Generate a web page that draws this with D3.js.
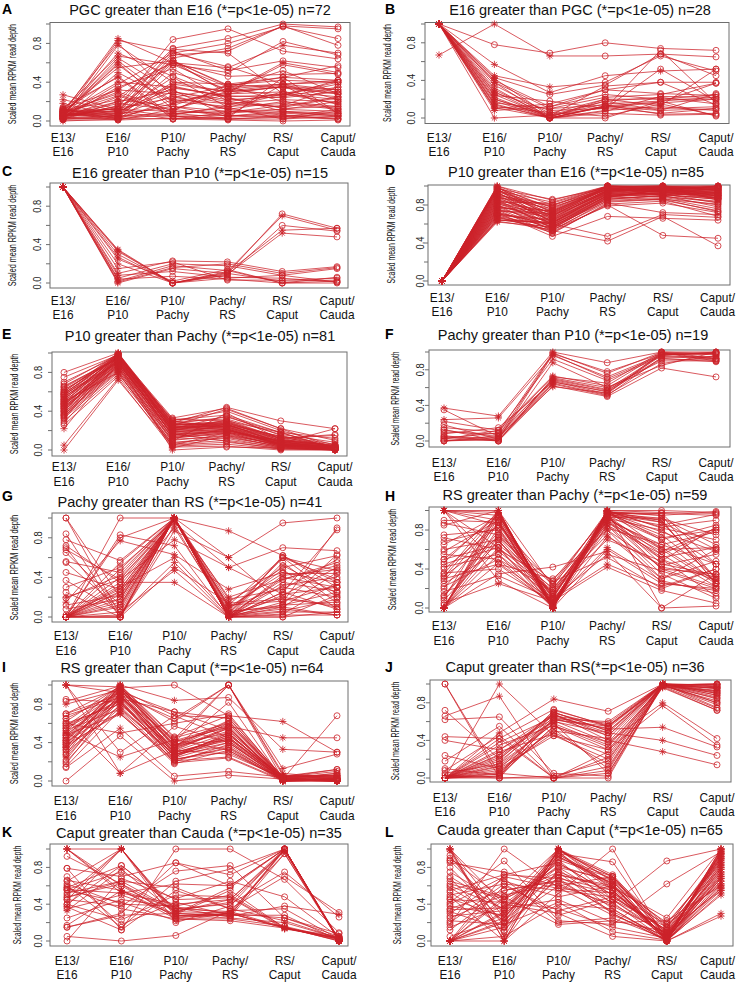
<!DOCTYPE html>
<html><head><meta charset="utf-8">
<script src="https://cdn.jsdelivr.net/npm/d3@7"></script>
<style>html,body{margin:0;padding:0;background:#fff;}svg{display:block;font-family:"Liberation Sans",Arial,Helvetica,sans-serif;}</style>
</head><body>
<svg id="c" width="736" height="983"></svg>
<script>
// ---------------- DATA ----------------
const stages = [["E13/","E16"],["E16/","P10"],["P10/","Pachy"],["Pachy/","RS"],["RS/","Caput"],["Caput/","Cauda"]];
const yTicks = [0,0.2,0.4,0.6,0.8,1.0];
const yLabelTicks = [0,0.4,0.8];
const yLabelText = ["0.0","0.4","0.8"];
const yTitle = "Scaled mean RPKM read depth";
const panelLetters = ["A","B","C","D","E","F","G","H","I","J","K","L"];
const panelTitles = [
 "PGC greater than E16 (*=p<1e-05) n=72","E16 greater than PGC (*=p<1e-05) n=28",
 "E16 greater than P10 (*=p<1e-05) n=15","P10 greater than E16 (*=p<1e-05) n=85",
 "P10 greater than Pachy (*=p<1e-05) n=81","Pachy greater than P10 (*=p<1e-05) n=19",
 "Pachy greater than RS (*=p<1e-05) n=41","RS greater than Pachy (*=p<1e-05) n=59",
 "RS greater than Caput (*=p<1e-05) n=64","Caput greater than RS(*=p<1e-05) n=36",
 "Caput greater than Cauda (*=p<1e-05) n=35","Cauda greater than Caput (*=p<1e-05) n=65"];
// default significance mask per panel ("*" = asterisk marker at that stage); a row's 7th item overrides
const starMasks = [".*....","**....","**....","**....",".*....","..*...","..**..","...*..",".*..*.","....*.","......",".....*"];

const dataA = [
[.08,.85,.60,.30,.35,.28],[.05,.83,.72,.52,.62,.55],[.10,.80,.25,.12,.20,.15],[.03,.78,.40,.38,.45,.42],
[.12,.67,.58,.35,.38,.32],[.06,.65,.30,.20,.28,.22],[.04,.60,.12,.05,.10,.08],[.09,.55,.62,.28,.30,.25],
[.02,.50,.20,.15,.18,.12],[.11,.46,.05,.02,.05,.03],[.07,.40,.35,.25,.27,.38],[.05,.33,.60,.55,.78,.70,".*..*."],
[.13,.32,.28,.18,.22,.20],[.08,.30,.10,.08,.12,.10],[.03,.25,.62,.37,.42,.40],[.10,.22,.15,.05,.08,.06],
[.06,.20,.75,.85,1.0,.97],[.27,.12,.05,.02,.04,.02,"*....."],[.22,.10,.02,.04,.06,.05,"*....."],[.18,.05,.08,.10,.09,.07,"*....."],
[.00,.02,.38,.30,.60,.50,"*...*."],[.05,.15,.70,.80,.97,.85,"......"],[.08,.08,.68,.72,.98,.78,"......"],[.04,.04,.58,.50,.82,.68,"......"],
[.10,.12,.62,.36,.45,.57,"......"],[.02,.03,.50,.33,.38,.42,"......"],[.06,.06,.40,.30,.35,.30,"......"],[.09,.10,.30,.22,.25,.35,"......"],
[.03,.02,.22,.18,.15,.25,"......"],[.07,.07,.15,.10,.12,.20,"......"],[.12,.05,.05,.06,.04,.12,"......"],[.01,.01,.03,.02,.02,.05,"......"],
[.05,.18,.12,.28,.36,.32,"......"],[.08,.26,.08,.03,.45,.08,"....*."],[.04,.14,.84,.95,.72,.64,"......"],[.10,.09,.74,.70,.28,.18,"......"],
[.06,.11,.60,.46,.48,.49,"......"],[.02,.16,.36,.24,.13,.15,"......"],[.07,.04,.18,.33,.26,.42,"......"],[.11,.12,.10,.38,.34,.28,"......"],
[.03,.06,.26,.12,.06,.02,"......"],[.09,.03,.02,.01,.00,.01,"......"],[.05,.08,.45,.14,.02,.10,"......"],[.02,.20,.32,.05,.38,.22,"......"],
[.14,.45,.02,.09,.16,.35],[.06,.70,.46,.24,.10,.05],[.08,.58,.16,.34,.52,.28],[.04,.38,.70,.56,.38,.40,"......"],
[.10,.28,.06,.16,.30,.17,"......"],[.03,.35,.54,.20,.14,.24,"......"],[.07,.62,.20,.29,.58,.48],[.05,.10,.34,.26,.24,.30,"......"],
[.09,.01,.12,.31,.37,.08,"......"],[.02,.05,.65,.75,.98,.95,"......"],[.06,.13,.24,.36,.20,.13,"......"],[.12,.02,.07,.14,.28,.40,"......"]];

const dataB = [
[.67,1.0,.66,.66,.68,.65,"***..."],[1,.78,.69,.80,.74,.72,"*....."],[1,.57,.27,.45,.50,.52,"***.*."],[1,.45,.33,.38,.66,.50,"***..."],
[1,.43,.25,.35,.68,.45],[1,.40,.12,.30,.38,.38],[1,.38,.10,.22,.25,.37],[1,.35,.05,.20,.20,.25],
[1,.30,.02,.15,.18,.22],[1,.28,.00,.12,.16,.20],[1,.27,.08,.10,.52,.18],[1,.25,.01,.18,.22,.15],
[1,.22,.00,.13,.10,.12],[1,.20,.03,.11,.05,.10],[1,.18,.00,.08,.12,.08],[1,.16,.10,.14,.04,.05],
[1,.14,.00,.05,.03,.04],[1,.12,.06,.02,.15,.03],[1,.11,.00,.00,.18,.02],[1,.10,.15,.30,.26,.24],
[1,.08,.12,.25,.20,.20],[1,.00,.03,.18,.08,.26],[1,.42,.02,.34,.38,.14],[1,.38,.00,.13,.17,.37],
[1,.32,.00,.07,.23,.22],[1,.24,.18,.10,.72,.16],[1,.20,.01,.20,.13,.52,"**..*."],[1,.15,.00,.12,.08,.10]];

const dataC = [
[1,.35,.00,.10,.72,.57],[1,.33,.00,.12,.70,.55,"**..*."],[1,.30,.00,.08,.60,.54],[1,.27,.00,.11,.55,.57,"**..*."],
[1,.20,.00,.09,.52,.48,"**..*."],[1,.10,.23,.22,.12,.17],[1,.05,.20,.18,.08,.15],[1,.02,.18,.13,.00,.06],
[1,.00,.15,.10,.02,.03],[1,.08,.12,.06,.05,.01],[1,.04,.07,.04,.00,.02],[1,.34,.00,.05,.08,.01],
[1,.25,.02,.14,.00,.00],[1,.15,.22,.03,.03,.05],[1,.01,.16,.20,.10,.16]];

const dataD = [
[0,1.0,.80,1.0,.98,.99],[0,.99,.75,.99,1.0,.97],[0,.98,.72,.97,.96,1.0],[0,.97,.86,.98,.99,.95],
[0,.96,.70,.95,.97,.93],[0,.95,.68,1.0,.94,.90],[0,.94,.78,.96,.98,.96],[0,.93,.65,.92,.95,.88],
[0,.92,.74,.99,.90,.98],[0,.91,.62,.94,1.0,.85],[0,.90,.80,.97,.97,.92],[0,.89,.58,.90,.93,.87],
[0,.88,.76,1.0,.99,.99],[0,.87,.69,.93,.92,.82],[0,.86,.55,.88,.96,.90],[0,.85,.72,.98,.95,.94],
[0,.84,.64,.91,.88,.80],[0,.83,.82,.99,1.0,1.0],[0,.82,.60,.86,.90,.78],[0,.81,.70,.95,.94,.91],
[0,.80,.53,.85,.87,.76],[0,.79,.66,.96,.98,.97],[0,.78,.57,.89,.85,.74],[0,.77,.74,.97,.93,.89],
[0,.76,.62,.92,.91,.86],[0,.75,.50,.82,.72,.70],[0,.74,.68,.94,.96,.95],[0,.73,.55,.87,.89,.84],
[0,.72,.47,.68,.66,.64],[0,.71,.60,.90,.93,.92],[0,.70,.52,.80,.48,.45],[0,.69,.64,.93,.97,.98],
[0,.68,.58,.84,.86,.81],[0,.67,.53,.42,.68,.37],[0,.66,.60,.47,.70,.67],[0,.65,.56,.86,.90,.88],
[0,.64,.62,.91,.95,.93],[0,.63,.54,.79,.82,.72],[0,.62,.57,.88,.92,.90],[0,1.0,.85,1.0,1.0,.96],
[0,.99,.66,.96,.94,.99],[0,.98,.77,.99,.97,.87],[0,.97,.61,.93,.99,1.0],[0,.96,.73,.98,.90,.94],
[0,.95,.83,1.0,.96,.91],[0,.94,.59,.90,.93,.97],[0,.92,.71,.97,1.0,.89],[0,.90,.63,.95,.95,1.0],
[0,.88,.79,1.0,.98,.93],[0,.86,.67,.94,.91,.86],[0,.84,.56,.88,.97,.96],[0,.82,.73,.99,.99,.98],
[0,.80,.61,.92,.89,.83],[0,.78,.69,.96,.95,.92],[0,.76,.54,.83,.86,.73],[0,.74,.71,.97,.97,.99],
[0,.72,.59,.89,.92,.90],[0,.70,.65,.95,.99,.95],[0,.68,.51,.81,.84,.68],[0,.64,.61,.90,.94,.87]];

const dataE = [
[.80,1.0,.30,.40,.20,.05],[.75,.98,.25,.42,.22,.10],[.70,.97,.28,.44,.30,.22],[.68,.99,.22,.35,.15,.03],
[.65,.96,.32,.30,.18,.02],[.64,.95,.20,.28,.10,.04],[.62,.94,.26,.26,.08,.02],[.60,1.0,.18,.25,.12,.15],
[.59,.93,.24,.24,.06,.01],[.58,.97,.30,.22,.05,.03],[.57,.92,.15,.20,.09,.02],[.56,.99,.28,.27,.14,.06],
[.55,.91,.21,.23,.07,.01],[.54,.96,.25,.30,.11,.02],[.53,.90,.12,.18,.04,.01],[.52,.98,.27,.26,.10,.05],
[.51,.89,.19,.21,.06,.02],[.50,.95,.23,.25,.08,.03],[.49,.88,.10,.15,.03,.01],[.48,1.0,.26,.29,.13,.04],
[.47,.87,.17,.19,.05,.02],[.46,.94,.22,.24,.09,.01],[.45,.86,.08,.12,.02,.00],[.44,.97,.24,.28,.12,.03],
[.43,.85,.16,.20,.07,.02],[.42,.93,.20,.22,.05,.01],[.41,.84,.06,.10,.03,.00],[.40,.99,.29,.32,.16,.08],
[.39,.83,.14,.17,.04,.02],[.38,.92,.21,.23,.06,.01],[.37,.82,.05,.08,.02,.00],[.36,.96,.27,.34,.18,.12],
[.35,.81,.13,.16,.05,.02],[.34,.91,.18,.20,.07,.03],[.33,.80,.04,.06,.01,.00],[.32,.95,.23,.26,.09,.04],
[.30,.78,.11,.14,.03,.01],[.28,.90,.19,.21,.08,.02],[.26,.76,.07,.13,.04,.02],[.22,.89,.00,.03,.02,.01,"***..."],
[.05,.74,.02,.15,.06,.02,"***..."],[.00,.72,.05,.18,.10,.04,"***..."],[.58,.98,.33,.43,.22,.02],[.62,.95,.31,.36,.18,.01],
[.47,.93,.15,.27,.07,.22],[.52,.97,.20,.31,.12,.16],[.45,.85,.09,.38,.11,.05],[.55,.90,.17,.09,.01,.01],
[.50,.80,.03,.04,.00,.00,".**..."],[.40,.96,.14,.19,.06,.02],[.43,.92,.25,.21,.05,.01],[.60,.99,.27,.24,.08,.03],
[.48,.88,.22,.26,.14,.02],[.36,.87,.16,.18,.04,.00],[.66,.94,.23,.29,.10,.02],[.57,.91,.12,.22,.06,.01]];

const dataF = [
[.37,.28,1.0,.88,1.0,1.0,"***..."],[.35,.05,.98,.78,.98,.99],[.24,.26,.96,.72,.97,.98,"***..."],[.22,.12,.92,.68,.95,.92],
[.18,.02,.88,.60,.90,.90],[.15,.10,.72,.65,1.0,.93],[.13,.00,.70,.58,.97,.99],[.10,.08,.68,.55,.92,.91],
[.08,.15,.66,.56,.96,1.0],[.05,.03,.65,.52,.87,.96],[.04,.00,.62,.50,.82,.72],[.02,.12,.73,.62,.99,.92],
[.00,.06,.69,.57,.93,.89],[.00,.04,.67,.53,.98,.97],[.01,.01,.64,.51,.94,.95],[.03,.09,.99,.76,1.0,.98],
[.00,.02,.97,.70,.96,.93],[.06,.00,.71,.60,.85,1.0],[.12,.05,.61,.54,.99,.90]];

const dataG = [
[1.0,.02,1.0,.00,.62,.35],[1.0,.20,.98,.05,.12,.25],[.84,.00,1.0,.15,.50,.62],[.78,.57,1.0,.02,.20,.10],
[.72,.35,1.0,.00,.40,.30],[.70,.00,.87,.60,.95,1.0],[.65,.12,1.0,.10,.30,.20],[.56,.45,.99,.00,.05,.05],
[.45,.28,1.0,.03,.60,.47],[.37,.05,1.0,.00,.15,.90],[.30,.50,.97,.20,.38,.55],[.25,.00,1.0,.01,.12,.15],
[.20,.38,.78,.50,.70,.67,"*.**.."],[.15,.77,.63,.28,.45,.35,"****.."],[.12,.22,1.0,.00,.25,.88],[.08,.18,1.0,.06,.10,.45],
[.00,1.0,1.0,.87,.62,.30],[.00,.83,.72,.00,.22,.50],[.00,.80,1.0,.12,.60,.20],[.00,.30,.60,.02,.08,.02],
[.00,.18,1.0,.00,.35,.26],[.00,.02,.55,.00,.42,.48],[.00,.00,.50,.14,.18,.12],[.00,.12,1.0,.00,.03,.35],
[.00,.05,.47,.00,.00,.05],[.00,.25,1.0,.18,.28,.58],[.00,.35,.35,.00,.10,.02],[.00,.48,1.0,.04,.52,.24],
[.00,.00,1.0,.60,.13,.63],[.02,.28,.99,.00,.32,.40],[.00,.15,1.0,.08,.48,.08],[.00,.40,.95,.50,.23,.30],
[.00,.22,1.0,.01,.06,.18],[.55,.08,1.0,.00,.02,.02],[.00,.32,.98,.12,.16,.32],[.19,.42,1.0,.00,.55,.14],
[.00,.00,.93,.02,.38,.52],[.00,.10,1.0,.00,.00,.22],[.68,.38,1.0,.10,.44,.44],[.00,.26,.90,.05,.60,.38],
[.00,.55,1.0,.00,.25,.08]];

const dataH = [
[1.0,1.0,.00,1.0,1.0,.98,"****.."],[1.0,.98,.02,.98,.95,.30,"****.."],[1.0,.95,.05,.96,.90,.25,"*.**.."],[1.0,.90,.00,.95,.85,.96,"*.**.."],
[1.0,.85,.10,.92,.80,.45,"*..*.."],[1.0,.62,.00,1.0,.60,.62,"*.**.."],[1.0,.45,.03,.90,.40,.35,"*..*.."],[1.0,.28,.00,.60,.25,.20,"*.**.."],
[.87,.75,.15,.97,.72,.80],[.85,1.0,.22,.99,.95,.99,".*.*.."],[.75,.80,.08,.85,.55,.22],[.72,.60,.28,.95,.45,.34],
[.65,.95,.12,.93,.92,.75],[.60,.70,.05,.88,.50,.28],[.58,.90,.00,.99,.70,.85,"..**.."],[.55,.50,.18,.75,.30,.60],
[.50,.65,.20,.82,.65,.45],[.47,.98,.02,.96,.88,.30,".***.."],[.42,.55,.10,.55,.38,.20],[.40,.85,.25,.97,.97,.95],
[.36,.40,.06,.62,.28,.15],[.35,1.0,.00,1.0,.82,.70,".***.."],[.33,.72,.14,.92,.60,.25],[.30,.45,.30,.80,.42,.32],
[.28,.92,.04,.98,.78,.58],[.25,.58,.16,.70,.48,.83],[.20,.88,.00,.94,.50,.12,"..**.."],[.17,.33,.09,.45,.22,.40],
[.13,.78,.12,.90,.65,.78],[.10,1.0,.01,.99,.90,.25,".***.."],[.08,.68,.20,.86,.35,.10],[.05,.25,.07,.42,.18,.05,".*.*.."],
[.00,.97,.00,1.0,.98,.97,"****.."],[.00,.93,.03,.97,.75,.32,"*..*.."],[.00,.88,.00,.95,.55,.80,"*.**.."],[.00,.82,.10,.99,.88,.60,"*..*.."],
[.00,.70,.00,.92,.62,.28,"*.**.."],[.00,.62,.04,.94,.40,.22,"*..*.."],[.00,.55,.00,.85,.30,.48,"*.**.."],[.00,.46,.08,.80,.26,.18,"*..*.."],
[.00,1.0,.00,1.0,.00,.35,"****.."],[.00,.35,.42,.58,.00,.02,"*..*.."],[.12,.75,.27,.52,.20,.40],[.50,.95,.05,.97,.92,.65],
[.68,.82,.00,.99,.83,.90,"..**.."],[.45,.62,.18,.90,.52,.62],[.22,.50,.02,.73,.44,.55],[.32,.96,.00,.98,.97,.45,"..**.."],
[.90,.88,.11,.95,.70,.26],[.03,.73,.24,.88,.58,.82]];

const dataI = [
[1.0,.98,.40,1.0,.02,.00,"**..*."],[1.0,.92,.32,.55,.01,.02,"**..*."],[1.0,.30,.68,.45,.05,.06,"*...*."],[.83,.99,.45,.60,.03,.01],
[.80,.95,.38,.50,.00,.03,"**..*."],[.70,.90,.28,.40,.02,.00],[.68,.87,.35,.52,.04,.05],[.65,.93,.25,.46,.01,.02],
[.60,.80,.30,.42,.00,.01],[.57,.97,.42,.58,.03,.08],[.55,.85,.22,.35,.02,.00],[.53,.75,.27,.48,.05,.03],
[.50,.91,.33,.55,.01,.02,"**..*."],[.48,.70,.20,.38,.00,.00],[.47,.96,.36,.62,.04,.10],[.45,.82,.26,.44,.02,.01],
[.43,1.0,.46,.68,.62,.30],[.42,.88,.31,.50,.01,.00],[.40,.78,.24,.40,.03,.04],[.38,.94,.40,.57,.45,.45],
[.36,.72,.18,.32,.02,.01],[.35,.99,.29,.46,.00,.02,"**..*."],[.33,.86,.72,.65,.05,.12],[.32,.90,.65,1.0,.13,.28],
[.30,.76,.28,.36,.01,.00],[.28,1.0,.84,.87,.33,.30,".**.*."],[.25,.84,.23,.30,.02,.01,"**..*."],[.22,.92,.62,1.0,.06,.04],
[.20,.80,.34,.56,.00,.02],[.18,.88,.38,.42,.03,.00],[.15,.74,.21,.25,.01,.01],[.14,.55,.05,.10,.04,.06],
[.00,.47,.00,.06,.02,.68,"..*.*."],[1.0,.08,.57,.40,.01,.00,"**..*."],[.65,.08,.32,.28,.03,.02],[.50,.25,.43,.32,.00,.01],
[.60,.50,.60,.70,.02,.08],[.45,.97,1.0,.68,.04,.12],[.55,.93,.72,.53,.02,.05],[.40,.87,.44,1.0,.08,.03],
[.70,.98,.37,.63,.01,.02],[.35,.96,.27,.48,.03,.00],[.58,.83,.19,.24,.00,.01],[.48,.90,.25,.50,.02,.00],
[.62,.99,.35,.60,.05,.06],[.42,.95,.68,.66,.01,.03],[.38,.70,.22,.34,.00,.00],[.27,.86,.30,.44,.04,.02],
[.52,1.0,.41,.56,.02,.01],[.85,.82,.34,.82,.01,.00]];

const dataJ = [
[1.0,.05,.00,.22,1.0,.98],[1.0,.00,.02,.18,1.0,.95],[.72,.20,.70,.50,1.0,.90],[.66,.87,.00,.12,.98,.85,".*..*."],
[.62,.65,.05,.02,1.0,.80],[.44,.42,.00,.05,.97,.72],[.40,.30,.68,.45,1.0,.92],[.24,.10,.62,.55,.99,1.0],
[.18,.55,.00,.08,1.0,.88],[.10,.03,.55,.38,.80,.42],[.08,.45,.00,.00,.99,.96],[.05,.15,.72,.56,1.0,.75],
[.00,1.0,.45,.30,.77,.35,".*..*."],[.00,.48,.84,.71,1.0,.99,".**.*."],[.00,.38,.65,.52,.54,.33],[.00,.25,.60,.48,.40,.24],
[.00,.22,.68,.40,.28,.14],[.00,.18,.62,.53,1.0,.97],[.00,.15,.58,.35,.98,.82],[.00,.12,.50,.42,1.0,.90],
[.00,.08,.48,.25,.99,.78],[.00,.05,.66,.58,1.0,.99],[.00,.02,.70,.50,.97,.93],[.00,.00,.64,.45,1.0,.86],
[.00,.28,.47,.15,1.0,.95],[.00,.35,.56,.33,.99,1.0],[.00,.42,.73,.55,1.0,.84],[.00,.10,.45,.20,.96,.72],
[.00,.20,.67,.48,1.0,.91],[.00,.06,.52,.10,.99,.80],[.00,.04,.61,.38,1.0,.97],[.00,.13,.58,.05,.98,.74],
[.00,.30,.63,.60,1.0,.93],[.03,.00,.00,.28,1.0,.88],[.00,.02,.55,.30,.99,1.0],[.00,.24,.69,.55,.98,.96]];

const dataK = [
[1.0,1.0,.30,.28,1.0,.01,"**...*"],[1.0,.55,.35,.32,.95,.00,"**...*"],[1.0,.52,.40,.45,1.0,.02,"**...*"],[.92,.62,.25,.30,.14,.05,"....*."],
[.79,.70,.85,.60,1.0,.00,".....*"],[.65,1.0,.28,.25,.20,.03,".*..*."],[.60,.15,.65,.78,1.0,.01,".....*"],[.58,.82,.35,.40,.75,.26],
[.55,.42,.22,.30,.14,.02,"....*."],[.50,1.0,.32,.45,.98,.00,".*...*"],[.47,.65,.58,.35,.70,.31],[.45,.38,.76,.82,.25,.08],
[.40,.23,.50,.48,.14,.03,"....*."],[.38,1.0,.26,.30,1.0,.00,"**...*"],[.37,.12,1.0,1.0,.67,.09],[.33,.78,.30,.27,.38,.29,"**...*"],
[.17,.55,.24,.22,.14,.01,".*..*."],[.15,.30,.85,.72,1.0,.00,".....*"],[.05,.00,.06,.33,.35,.02],[.00,.68,.46,.65,.48,.04],
[1.0,.60,.28,.28,.28,.01,"*....."],[.56,.52,.62,.60,1.0,.00,".*...*"],[.62,.40,.38,.50,.15,.02,"....*."],[.52,.65,.33,.42,.98,.01,".....*"],
[.45,1.0,.20,.38,1.0,.00,".*...*"],[.79,.12,.55,.35,.22,.03],[.66,.55,.27,.32,.15,.00,".*..*."],[.40,.82,.36,.26,.95,.02],
[.15,.28,.30,.58,1.0,.00,".....*"],[.56,.75,.45,.47,.13,.04,"....*."],[.25,.45,.37,.30,.25,.05],[.48,.62,.32,.30,.15,.00,"....*."],
[.70,.18,.42,.28,.99,.01],[.35,.50,.29,.55,.14,.03,"....*."],[.58,.35,.24,.24,.16,.02]];

const dataL = [
[1.0,.00,1.0,.60,.02,1.0,"***..*"],[1.0,.05,.95,.55,.00,.98,"*....*"],[1.0,.25,.90,.70,.05,.95,"*....*"],[1.0,.40,.85,.50,.10,.90,"*....*"],
[.98,.00,1.0,.65,.00,.85,"***..*"],[.90,.45,.80,.45,.15,.80],[.87,.30,.72,.60,.02,.75],[.85,.75,.60,.40,.87,1.0],
[.80,.20,.98,.70,.08,.70],[.65,.48,.75,.30,.00,.65],[.60,.35,.45,.20,.22,.60],[.55,.72,.68,.55,.04,.92],
[.53,.15,.92,.62,.01,.55],[.50,.62,.55,.48,.12,.88],[.48,.00,.78,.35,.00,.52,".*...*"],[.45,.42,.35,.15,.03,.68],
[.42,.87,.22,.18,.62,.97],[.38,.28,.88,.68,.06,.78],[.35,.55,.65,.52,.18,.62],[.32,.12,.70,.42,.00,.58],
[.30,.68,.20,.25,.02,.72],[.27,.33,.96,.58,.25,1.0],[.25,.50,.62,.38,.09,.83],[.22,.18,.42,.10,.01,.50],
[.18,1.0,.58,.28,.05,.80],[.15,.38,.82,.64,.14,.95],[.05,.25,1.0,.72,.07,.90,"..*..*"],[.00,.45,1.0,.66,.00,.97,"*.*..*"],
[.00,.32,.92,.60,.20,.85,"*....*"],[.00,.22,.75,.55,.03,.68,"*....*"],[.00,.00,.52,1.0,.00,.62,"**...*"],[.00,.60,.33,.48,.12,.75,"*....*"],
[.00,.15,.68,.30,.00,.27,"*....*"],[.00,.48,.18,.22,.10,.55,"*....*"],[.00,.30,.95,.86,.02,.99,"*....*"],[.00,.72,.85,.50,.06,.88,"*....*"],
[.00,.05,.40,.35,.00,.70,"**...*"],[.00,.20,.60,.70,.15,.92,"*....*"],[.68,.10,.98,.45,.04,.60],[.75,.40,.30,.05,.00,.30],
[.88,.65,.48,.60,.01,.78],[.46,.26,.88,.40,.08,.86],[.62,.46,.72,.58,.02,1.0],[.40,.70,.57,.52,.11,.65],
[.58,.22,.94,.62,.00,.96],[.12,.55,.66,.32,.04,.73],[.34,.36,.80,.66,.18,.90],[.93,.16,.99,.70,.03,.94],
[.20,.62,.28,.45,.07,.57],[.70,.34,1.0,.56,.00,.82,"..*..*"]];

const panelData = [dataA,dataB,dataC,dataD,dataE,dataF,dataG,dataH,dataI,dataJ,dataK,dataL];

// ---------------- LAYOUT (pixel geometry per panel) ----------------
// box:[left,right,top,bottom]; xs:[first,last] stage x; ys:[y at 0, y at 1]; lab: baseline of first x-label line
const layout = [
 {box:[50,350,22.5,126], xs:[63,338], ys:[121,24],  title:[200,15],  letter:[2,13.5],  ylab:13,  tlab:37,  lab:141.5},
 {box:[425,729,22.5,123.5], xs:[439,716], ys:[118,24], title:[580,15], letter:[385,13.5], ylab:388, tlab:411, lab:141.5},
 {box:[50,348,183,288], xs:[63,337], ys:[283,187], title:[200,178], letter:[2,175.5], ylab:13, tlab:37, lab:304.5},
 {box:[428,730,185,285], xs:[442,718], ys:[281,186], title:[576,177], letter:[385,174.5], ylab:392, tlab:420, lab:301.5},
 {box:[52,347,352,456], xs:[64,335], ys:[450,353], title:[200,341], letter:[2,338.5], ylab:15, tlab:38, lab:471},
 {box:[429,730,350,447], xs:[444,716], ys:[441,352], title:[573,340], letter:[385,338.5], ylab:395, tlab:420, lab:466.5},
 {box:[52,348,513,622], xs:[66,337], ys:[617,518], title:[190,507], letter:[2,501], ylab:15, tlab:38, lab:640},
 {box:[429,731,507,612], xs:[444,716], ys:[608,510.5], title:[575,500], letter:[385,500.5], ylab:393, tlab:419, lab:630},
 {box:[52,348,681,786], xs:[66,337], ys:[781,685], title:[192,673], letter:[2,672], ylab:15, tlab:38, lab:805},
 {box:[430,731,680,782], xs:[445,717], ys:[778,684], title:[575,672], letter:[385,672], ylab:396, tlab:421, lab:801.5},
 {box:[50,348,844,946], xs:[67,339], ys:[941,849], title:[199,838], letter:[2,836.5], ylab:18, tlab:38, lab:964.5},
 {box:[431,733,844,946], xs:[450,721], ys:[941,849], title:[580,835], letter:[385,836.5], ylab:398, tlab:421, lab:964.5}
];
const LAB_GAP = 14.5, LAB_SIZE = 12.5, LAB_SX = 0.95;

const RED = "#cc2229";
const svg = d3.select("#c");

function starPath(cx, cy, s) {
  const d = s * 0.7071;
  return `M${cx-s},${cy}L${cx+s},${cy}M${cx},${cy-s}L${cx},${cy+s}` +
         `M${cx-d},${cy-d}L${cx+d},${cy+d}M${cx-d},${cy+d}L${cx+d},${cy-d}`;
}

panelData.forEach((rows, k) => {
  const L = layout[k];
  const [bl, br, bt, bb] = L.box;
  const x = d3.scalePoint().domain(d3.range(stages.length)).range(L.xs);
  const y = d3.scaleLinear().domain([0, 1]).range(L.ys);
  const g = svg.append("g");

  // box
  g.append("rect").attr("x", bl).attr("y", bt).attr("width", br - bl).attr("height", bb - bt)
    .attr("fill", "none").attr("stroke", "#6e6e6e").attr("stroke-width", 1);

  // y ticks
  g.selectAll("line.tk").data(yTicks).join("line")
    .attr("x1", bl - 4).attr("x2", bl).attr("y1", d => y(d)).attr("y2", d => y(d))
    .attr("stroke", "#6e6e6e").attr("stroke-width", 1);
  g.selectAll("text.tl").data(yLabelTicks).join("text")
    .attr("transform", d => `translate(${L.tlab},${y(d)}) rotate(-90) scale(0.85,1)`)
    .attr("text-anchor", "middle").attr("dominant-baseline", "central")
    .attr("font-size", 11).attr("fill", "#222")
    .text((d, i) => yLabelText[i]);

  // y title, compressed to the box height
  const h = bb - bt;
  const yt = g.append("text")
    .attr("text-anchor", "middle").attr("dominant-baseline", "central")
    .attr("font-size", 10).attr("fill", "#111").text(yTitle);
  const natural = yt.node().getComputedTextLength();
  const f = Math.min(1, (h * 0.97) / natural);
  yt.attr("transform", `translate(${L.ylab},${(bt + bb) / 2}) rotate(-90) scale(${f},1)`);

  // x labels (kept inside the page)
  stages.forEach((s, i) => {
    s.forEach((t, j) => {
      const tx = g.append("text")
        .attr("text-anchor", "middle").attr("font-size", LAB_SIZE).attr("fill", "#111").text(t);
      const w = tx.node().getComputedTextLength() * LAB_SX;
      let cx = x(i);
      if (cx + w / 2 > 735) cx = 735 - w / 2;
      tx.attr("transform", `translate(${cx},${L.lab + j * LAB_GAP}) scale(${LAB_SX},1)`);
    });
  });

  // title & letter
  g.append("text").attr("x", L.title[0]).attr("y", L.title[1]).attr("text-anchor", "middle")
    .attr("font-size", 14.5).attr("fill", "#111").text(panelTitles[k]);
  g.append("text").attr("x", L.letter[0]).attr("y", L.letter[1]).attr("font-size", 14)
    .attr("font-weight", "bold").attr("fill", "#000").text(panelLetters[k]);

  // lines
  const line = d3.line().x((d, i) => x(i)).y(d => y(d));
  g.append("g").selectAll("path").data(rows).join("path")
    .attr("d", r => line(r.slice(0, 6)))
    .attr("fill", "none").attr("stroke", RED).attr("stroke-width", 0.75);

  // markers
  const pts = rows.flatMap(r => {
    const m = (typeof r[6] === "string") ? r[6] : starMasks[k];
    return r.slice(0, 6).map((v, i) => ({i, v, star: m[i] === "*"}));
  });
  const mg = g.append("g").attr("fill", "none").attr("stroke", RED).attr("stroke-width", 0.8);
  mg.selectAll("circle").data(pts.filter(p => !p.star)).join("circle")
    .attr("cx", p => x(p.i)).attr("cy", p => y(p.v)).attr("r", 3);
  mg.selectAll("path").data(pts.filter(p => p.star)).join("path")
    .attr("d", p => starPath(x(p.i), y(p.v), 3.6));
});
</script>
</body></html>
